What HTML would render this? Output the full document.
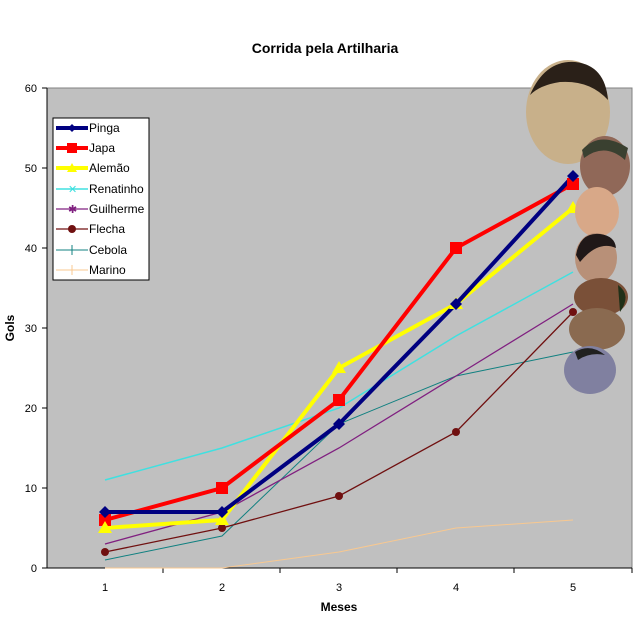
<!DOCTYPE html>
<html><head><meta charset="utf-8"><style>body{margin:0;background:#fff}svg{display:block}</style></head><body>
<svg width="640" height="620" xmlns="http://www.w3.org/2000/svg" font-family="Liberation Sans, Arial, sans-serif">
<rect width="640" height="620" fill="#fff"/>
<text x="325" y="53" text-anchor="middle" font-size="14" font-weight="bold">Corrida pela Artilharia</text>
<rect x="47" y="88" width="585" height="480" fill="#c0c0c0" stroke="#808080"/>
<g stroke="#000" stroke-width="1">
<line x1="47" y1="88" x2="47" y2="568"/><line x1="47" y1="568" x2="632" y2="568"/>
<line x1="42" y1="88" x2="47" y2="88"/><line x1="42" y1="168" x2="47" y2="168"/><line x1="42" y1="248" x2="47" y2="248"/><line x1="42" y1="328" x2="47" y2="328"/><line x1="42" y1="408" x2="47" y2="408"/><line x1="42" y1="488" x2="47" y2="488"/><line x1="42" y1="568" x2="47" y2="568"/>
<line x1="163" y1="568" x2="163" y2="573"/><line x1="280" y1="568" x2="280" y2="573"/><line x1="397" y1="568" x2="397" y2="573"/><line x1="514" y1="568" x2="514" y2="573"/><line x1="632" y1="568" x2="632" y2="573"/>
</g>
<g font-size="11" text-anchor="end">
<text x="37" y="92">60</text><text x="37" y="172">50</text><text x="37" y="252">40</text><text x="37" y="332">30</text><text x="37" y="412">20</text><text x="37" y="492">10</text><text x="37" y="572">0</text></g>
<g font-size="11" text-anchor="middle">
<text x="105" y="591">1</text><text x="222" y="591">2</text><text x="339" y="591">3</text><text x="456" y="591">4</text><text x="573" y="591">5</text></g>
<text x="339" y="611" text-anchor="middle" font-size="12" font-weight="bold">Meses</text>
<text x="14" y="328" text-anchor="middle" font-size="12" font-weight="bold" transform="rotate(-90 14 328)">Gols</text>
<g fill="none">
<polyline points="105,568 222,568 339,552 456,528 573,520" stroke="#f8c890" stroke-width="1"/>
<polyline points="105,560 222,536 339,424 456,376 573,352" stroke="#108080" stroke-width="1"/>
<polyline points="105,552 222,528 339,496 456,432 573,312" stroke="#701010" stroke-width="1.3"/>
<polyline points="105,544 222,512 339,448 456,376 573,304" stroke="#802080" stroke-width="1.3"/>
<polyline points="105,480 222,448 339,408 456,336 573,272" stroke="#40e0e0" stroke-width="1.5"/>
<polyline points="105,528 222,520 339,368 456,304 573,208" stroke="#ffff00" stroke-width="4"/>
<polyline points="105,520 222,488 339,400 456,248 573,184" stroke="#ff0000" stroke-width="4"/>
<polyline points="105,512 222,512 339,424 456,304 573,176" stroke="#000080" stroke-width="4"/>
</g>
<g fill="#701010"><circle cx="105" cy="552" r="4"/><circle cx="222" cy="528" r="4"/><circle cx="339" cy="496" r="4"/><circle cx="456" cy="432" r="4"/><circle cx="573" cy="312" r="4"/></g>
<g fill="#ff0000"><rect x="99" y="514" width="12" height="12"/><rect x="216" y="482" width="12" height="12"/><rect x="333" y="394" width="12" height="12"/><rect x="450" y="242" width="12" height="12"/><rect x="567" y="178" width="12" height="12"/></g>
<g fill="#ffff00"><path d="M105 521l7 12h-14z"/><path d="M222 513l7 12h-14z"/><path d="M339 361l7 12h-14z"/><path d="M456 297l7 12h-14z"/><path d="M573 201l7 12h-14z"/></g>
<g fill="#000080"><path d="M105 506l6 6-6 6-6-6z"/><path d="M222 506l6 6-6 6-6-6z"/><path d="M339 418l6 6-6 6-6-6z"/><path d="M456 298l6 6-6 6-6-6z"/><path d="M573 170l6 6-6 6-6-6z"/></g>
<g>
<ellipse cx="568" cy="112" rx="42" ry="52" fill="#c8b08a"/><path d="M530 95 Q545 60 575 62 Q605 65 608 100 Q590 80 560 82 Q540 85 530 95z" fill="#2a2018"/>
<ellipse cx="605" cy="166" rx="25" ry="30" fill="#906858"/><path d="M582 150 Q600 130 628 148 L625 160 Q605 142 584 158z" fill="#3a4030"/>
<ellipse cx="597" cy="212" rx="22" ry="25" fill="#d8a888"/>
<ellipse cx="596" cy="258" rx="21" ry="25" fill="#b89078"/><path d="M576 255 Q580 232 600 234 Q615 236 616 248 Q598 240 580 262z" fill="#201818"/>
<ellipse cx="601" cy="297" rx="27" ry="19" fill="#7a5038"/><path d="M618 285 Q632 295 620 312 Z" fill="#203018"/>
<ellipse cx="597" cy="329" rx="28" ry="21" fill="#8a6a50"/>
<ellipse cx="590" cy="370" rx="26" ry="24" fill="#8080a0"/><path d="M575 352 Q590 343 605 355 Q590 352 578 360z" fill="#202020"/>
</g>
<rect x="53" y="118" width="96" height="162" fill="#fff" stroke="#000"/>
<g font-size="12">
<line x1="56" y1="128" x2="88" y2="128" stroke="#000080" stroke-width="4"/><path d="M72 124l4 4-4 4-4-4z" fill="#000080"/><text x="89" y="132">Pinga</text>
<line x1="56" y1="148" x2="88" y2="148" stroke="#ff0000" stroke-width="4"/><rect x="67" y="143" width="10" height="10" fill="#ff0000"/><text x="89" y="152">Japa</text>
<line x1="56" y1="168" x2="88" y2="168" stroke="#ffff00" stroke-width="4"/><path d="M72 163l5 9h-10z" fill="#ffff00"/><text x="89" y="172">Alemão</text>
<line x1="56" y1="189" x2="88" y2="189" stroke="#40e0e0" stroke-width="1.5"/><text x="68" y="193" fill="#40e0e0" font-size="11">✕</text><text x="89" y="193">Renatinho</text>
<line x1="56" y1="209" x2="88" y2="209" stroke="#802080" stroke-width="1.3"/><text x="68" y="213" fill="#802080" font-size="11">✱</text><text x="89" y="213">Guilherme</text>
<line x1="56" y1="229" x2="88" y2="229" stroke="#701010" stroke-width="1.3"/><circle cx="72" cy="229" r="4" fill="#701010"/><text x="89" y="233">Flecha</text>
<line x1="56" y1="250" x2="88" y2="250" stroke="#108080"/><line x1="72" y1="245" x2="72" y2="255" stroke="#108080"/><text x="89" y="254">Cebola</text>
<line x1="56" y1="270" x2="88" y2="270" stroke="#f8c890"/><line x1="72" y1="265" x2="72" y2="275" stroke="#f8c890"/><text x="89" y="274">Marino</text>
</g>
</svg>
</body></html>
